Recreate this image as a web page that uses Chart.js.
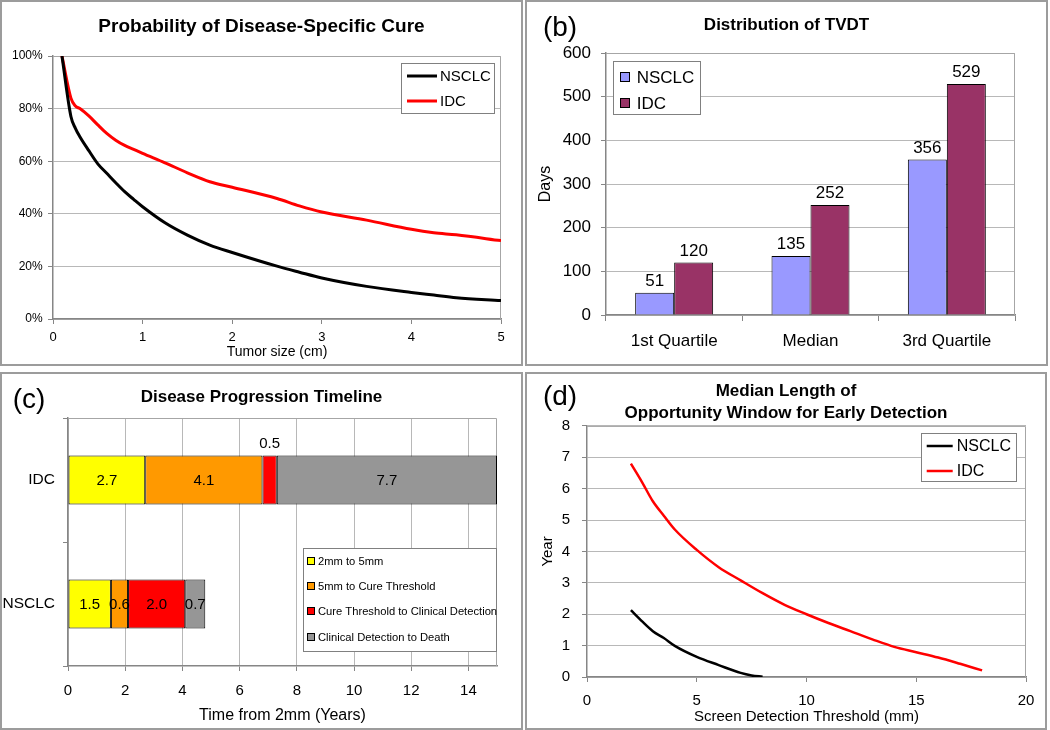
<!DOCTYPE html>
<html>
<head>
<meta charset="utf-8">
<title>Tumor growth panels</title>
<script src="https://cdn.jsdelivr.net/npm/chart.js@4.4.0/dist/chart.umd.min.js"></script>
<style>
  body { margin: 0; background: #fff; width: 1050px; height: 730px; position: relative; overflow: hidden; }
  .panel { position: absolute; box-sizing: border-box; border: 2px solid #9c9c9c; background: #fff; }
  .panel canvas { display: block; }
</style>
</head>
<body>
<div class="panel" style="left:0;top:0;width:523px;height:366px"><canvas id="cureChart" width="519" height="362"></canvas></div>
<div class="panel" style="left:525px;top:0;width:523px;height:366px"><canvas id="tvdtChart" width="519" height="362"></canvas></div>
<div class="panel" style="left:0;top:372px;width:523px;height:358px"><canvas id="timelineChart" width="519" height="354"></canvas></div>
<div class="panel" style="left:525px;top:372px;width:522px;height:358px"><canvas id="windowChart" width="518" height="354"></canvas></div>

<script>
// (a) probability of disease-specific cure, % by tumor size (cm)
const sizeCm = [0.1, 0.2, 0.25, 0.3, 0.4, 0.5, 0.6, 0.7, 0.8, 0.9, 1, 1.25, 1.5, 1.75, 2, 2.5, 2.75, 3, 3.5, 4, 4.25, 4.5, 5];
const cureNsclc = [100, 77, 72.5, 69.3, 64, 59, 55.4, 51.8, 48.4, 45.5, 42.7, 36.6, 31.9, 28.1, 25.3, 20.1, 17.8, 15.6, 12.4, 10.1, 9.1, 8.1, 7];
const cureIdc = [100, 84, 81, 80, 77.2, 73.8, 70.6, 68, 66, 64.5, 63, 59.4, 55.6, 52.2, 50.1, 45.8, 43, 40.7, 37.6, 34.1, 32.8, 32, 29.8];

// (b) TVDT distribution, days
const quartiles = ['1st Quartile', 'Median', '3rd Quartile'];
const tvdtNsclc = [51, 135, 356];
const tvdtIdc = [120, 252, 529];

// (c) disease progression timeline, years
const cancers = ['IDC', 'NSCLC'];
const stageNames = ['2mm to 5mm', '5mm to Cure Threshold', 'Cure Threshold to Clinical Detection', 'Clinical Detection to Death'];
const stage2to5mm = [2.7, 1.5];
const stage5mmToCure = [4.1, 0.6];
const stageCureToDetect = [0.5, 2.0];
const stageDetectToDeath = [7.7, 0.7];

// (d) opportunity window (years) by screen detection threshold (mm)
const thresholdIdcMm = [2, 2.5, 3, 3.5, 4, 5, 6, 7, 8, 9, 10, 11, 12, 13, 14, 15, 16, 17, 18];
const windowIdc = [6.8, 6.22, 5.6, 5.14, 4.7, 4.05, 3.5, 3.08, 2.67, 2.3, 2.0, 1.72, 1.46, 1.2, 0.96, 0.79, 0.62, 0.42, 0.21];
const thresholdNsclcMm = [2, 2.5, 3, 3.5, 4, 5, 6, 7, 7.5, 8];
const windowNsclc = [2.13, 1.78, 1.46, 1.24, 0.99, 0.64, 0.38, 0.13, 0.05, 0.01];

Chart.defaults.font.family = '"Liberation Sans", Arial, sans-serif';
Chart.defaults.color = '#000';

const AXIS = '#868686';
const GRID = '#b8b8b8';

function points(xs, ys) {
  return xs.map((x, i) => ({ x: x, y: ys[i] }));
}

// plot frame, panel letter, boxed legend and value labels
const decor = {
  id: 'decor',
  afterLayout(chart) {
    // center the title over the whole panel, not just the padded area
    if (chart.titleBlock) {
      chart.titleBlock.left = 0;
      chart.titleBlock.right = chart.width;
    }
  },
  beforeDatasetsDraw(chart) {
    const ctx = chart.ctx;
    const a = chart.chartArea;
    ctx.save();
    ctx.strokeStyle = '#a6a6a6';
    ctx.lineWidth = 1;
    ctx.beginPath();
    ctx.moveTo(a.left, a.top + 0.5);
    ctx.lineTo(a.right - 0.5, a.top + 0.5);
    ctx.lineTo(a.right - 0.5, a.bottom);
    ctx.stroke();
    ctx.restore();
  },
  afterDatasetsDraw(chart, args, opts) {
    if (!opts.values) return;
    const ctx = chart.ctx;
    const v = opts.values;
    ctx.save();
    ctx.fillStyle = '#000';
    ctx.font = v.size + 'px "Liberation Sans", Arial, sans-serif';
    ctx.textAlign = 'center';
    chart.data.datasets.forEach((ds, i) => {
      chart.getDatasetMeta(i).data.forEach((el, j) => {
        const val = ds.data[j];
        if (v.mode === 'top') {
          ctx.textBaseline = 'bottom';
          ctx.fillText(String(val), el.x, el.y - 3);
        } else {
          const w = Math.abs(el.x - el.base);
          const cx = (el.x + el.base) / 2;
          ctx.textBaseline = 'middle';
          if (w < 16) {
            ctx.fillText(val.toFixed(1), cx, el.y - el.height / 2 - 12);
          } else {
            ctx.fillText(val.toFixed(1), cx, el.y + 1);
          }
        }
      });
    });
    ctx.restore();
  },
  afterDraw(chart, args, opts) {
    const ctx = chart.ctx;
    ctx.save();
    if (opts.tag) {
      ctx.fillStyle = '#000';
      ctx.font = '28px "Liberation Sans", Arial, sans-serif';
      ctx.textAlign = 'center';
      ctx.textBaseline = 'middle';
      ctx.fillText(opts.tag.text, opts.tag.x, opts.tag.y);
    }
    const L = opts.legend;
    if (L) {
      ctx.fillStyle = '#fff';
      ctx.fillRect(L.x, L.y, L.w, L.h);
      ctx.strokeStyle = '#808080';
      ctx.lineWidth = 1;
      ctx.strokeRect(L.x + 0.5, L.y + 0.5, L.w - 1, L.h - 1);
      ctx.font = L.size + 'px "Liberation Sans", Arial, sans-serif';
      ctx.textAlign = 'left';
      ctx.textBaseline = 'middle';
      chart.data.datasets.forEach((ds, i) => {
        const y = Math.round(L.y + L.first + i * L.step);
        if (L.kind === 'line') {
          ctx.strokeStyle = ds.borderColor;
          ctx.lineWidth = ds.borderWidth;
          ctx.beginPath();
          ctx.moveTo(L.x + L.symX, y);
          ctx.lineTo(L.x + L.symX + L.symW, y);
          ctx.stroke();
        } else {
          const s = L.symW;
          ctx.fillStyle = ds.backgroundColor;
          ctx.fillRect(L.x + L.symX, y - s / 2, s, s);
          ctx.strokeStyle = '#000';
          ctx.lineWidth = 1;
          ctx.strokeRect(L.x + L.symX + 0.5, y - s / 2 + 0.5, s - 1, s - 1);
        }
        ctx.fillStyle = '#000';
        ctx.fillText(ds.label, L.x + L.textX, y + 1);
      });
    }
    ctx.restore();
  }
};

// (a)
new Chart(document.getElementById('cureChart'), {
  type: 'line',
  data: {
    datasets: [
      { label: 'NSCLC', data: points(sizeCm, cureNsclc), borderColor: '#000000', borderWidth: 3, pointRadius: 0, cubicInterpolationMode: 'monotone' },
      { label: 'IDC', data: points(sizeCm, cureIdc), borderColor: '#ff0000', borderWidth: 3, pointRadius: 0, cubicInterpolationMode: 'monotone' }
    ]
  },
  options: {
    responsive: false,
    animation: false,
    layout: { padding: { left: 0, right: 20, top: 0, bottom: 0 } },
    plugins: {
      legend: { display: false },
      tooltip: { enabled: false },
      title: { display: true, text: 'Probability of Disease-Specific Cure', font: { size: 19, weight: 'bold' }, padding: { top: 13.5, bottom: 17.7 } },
      decor: { legend: { kind: 'line', x: 399, y: 61, w: 94, h: 51, first: 13, step: 25, symX: 6, symW: 30, textX: 39, size: 15 } }
    },
    scales: {
      x: {
        type: 'linear', min: 0, max: 5,
        ticks: { stepSize: 1, font: { size: 13 }, padding: 5.8 },
        grid: { drawOnChartArea: false, tickLength: 5, tickColor: AXIS },
        border: { color: AXIS, width: 1.5 },
        title: { display: true, text: 'Tumor size (cm)', font: { size: 14 }, padding: { top: 0, bottom: 3.6 } },
        afterFit: s => { s.height = 45; }
      },
      y: {
        min: 0, max: 100,
        ticks: { stepSize: 20, font: { size: 12 }, padding: 5.3, callback: v => v + '%' },
        grid: { color: GRID, tickLength: 5, tickColor: AXIS },
        border: { color: AXIS, width: 1.5 },
        afterFit: s => { s.width = 51; }
      }
    }
  },
  plugins: [decor]
});

// (b)
new Chart(document.getElementById('tvdtChart'), {
  type: 'bar',
  data: {
    labels: quartiles,
    datasets: [
      { label: 'NSCLC', data: tvdtNsclc, backgroundColor: '#9999ff', borderColor: '#000', borderWidth: 1 },
      { label: 'IDC', data: tvdtIdc, backgroundColor: '#993366', borderColor: '#000', borderWidth: 1 }
    ]
  },
  options: {
    responsive: false,
    animation: false,
    datasets: { bar: { categoryPercentage: 0.572, barPercentage: 1 } },
    layout: { padding: { left: 0, right: 31, top: 0, bottom: 0 } },
    plugins: {
      legend: { display: false },
      tooltip: { enabled: false },
      title: { display: true, text: 'Distribution of TVDT', font: { size: 17, weight: 'bold' }, padding: { top: 12.8, bottom: 17.8 } },
      decor: {
        tag: { text: '(b)', x: 33, y: 26 },
        values: { mode: 'top', size: 17 },
        legend: { kind: 'box', x: 86, y: 59, w: 88, h: 54, first: 15.7, step: 26.3, symX: 7, symW: 10, textX: 23.7, size: 17 }
      }
    },
    scales: {
      x: {
        ticks: { font: { size: 17 }, padding: 10.5 },
        grid: { drawOnChartArea: false, tickLength: 6, tickColor: AXIS },
        border: { color: AXIS, width: 1.5 },
        afterFit: s => { s.height = 49; }
      },
      y: {
        min: 0, max: 600,
        ticks: { stepSize: 100, font: { size: 17 }, padding: 10 },
        grid: { color: GRID, tickLength: 5, tickColor: AXIS },
        border: { color: AXIS, width: 1.5 },
        title: { display: true, text: 'Days', font: { size: 16 }, padding: { top: 9.4, bottom: 0 } },
        afterFit: s => { s.width = 79; }
      }
    }
  },
  plugins: [decor]
});

// (c)
const STAGE_COLORS = ['#ffff00', '#ff9900', '#ff0000', '#969696'];
const stageValues = [stage2to5mm, stage5mmToCure, stageCureToDetect, stageDetectToDeath];

new Chart(document.getElementById('timelineChart'), {
  type: 'bar',
  data: {
    labels: cancers,
    datasets: stageNames.map((name, i) => ({
      label: name,
      data: stageValues[i],
      backgroundColor: STAGE_COLORS[i],
      borderColor: '#000',
      borderWidth: 1,
      borderSkipped: false
    }))
  },
  options: {
    indexAxis: 'y',
    responsive: false,
    animation: false,
    datasets: { bar: { categoryPercentage: 0.395, barPercentage: 1 } },
    layout: { padding: { left: 0, right: 24, top: 0, bottom: 0 } },
    plugins: {
      legend: { display: false },
      tooltip: { enabled: false },
      title: { display: true, text: 'Disease Progression Timeline', font: { size: 17, weight: 'bold' }, padding: { top: 13.5, bottom: 10.1 } },
      decor: {
        tag: { text: '(c)', x: 27, y: 26 },
        values: { mode: 'center', size: 15 },
        legend: { kind: 'box', x: 301, y: 174, w: 194, h: 104, first: 12.7, step: 25.3, symX: 4, symW: 8, textX: 15, size: 11.2 }
      }
    },
    scales: {
      x: {
        type: 'linear', stacked: true, min: 0, max: 15,
        ticks: { stepSize: 2, includeBounds: false, font: { size: 15 }, padding: 10.8 },
        grid: { color: GRID, tickLength: 5, tickColor: AXIS },
        border: { color: AXIS, width: 1.5 },
        title: { display: true, text: 'Time from 2mm (Years)', font: { size: 16 }, padding: { top: 0, bottom: 2.6 } },
        afterFit: s => { s.height = 62; }
      },
      y: {
        stacked: true,
        ticks: { font: { size: 15.5 }, padding: 8 },
        grid: { drawOnChartArea: false, tickLength: 5, tickColor: AXIS },
        border: { color: AXIS, width: 1.5 },
        afterFit: s => { s.width = 66; }
      }
    }
  },
  plugins: [decor]
});

// (d)
new Chart(document.getElementById('windowChart'), {
  type: 'line',
  data: {
    datasets: [
      { label: 'NSCLC', data: points(thresholdNsclcMm, windowNsclc), borderColor: '#000000', borderWidth: 2.5, pointRadius: 0, cubicInterpolationMode: 'monotone' },
      { label: 'IDC', data: points(thresholdIdcMm, windowIdc), borderColor: '#ff0000', borderWidth: 2.5, pointRadius: 0, cubicInterpolationMode: 'monotone' }
    ]
  },
  options: {
    responsive: false,
    animation: false,
    layout: { padding: { left: 0, right: 19, top: 0, bottom: 0 } },
    plugins: {
      legend: { display: false },
      tooltip: { enabled: false },
      title: {
        display: true,
        text: ['Median Length of', 'Opportunity Window for Early Detection'],
        font: { size: 17, weight: 'bold', lineHeight: 1.31 },
        padding: { top: 5.85, bottom: 1.55 }
      },
      decor: {
        tag: { text: '(d)', x: 33, y: 23 },
        legend: { kind: 'line', x: 394, y: 59, w: 96, h: 49, first: 13, step: 25, symX: 5.7, symW: 26, textX: 35.7, size: 16 }
      }
    },
    scales: {
      x: {
        type: 'linear', min: 0, max: 20,
        ticks: { stepSize: 5, font: { size: 15 }, padding: 9.8 },
        grid: { drawOnChartArea: false, tickLength: 5, tickColor: AXIS },
        border: { color: AXIS, width: 1.5 },
        title: { display: true, text: 'Screen Detection Threshold (mm)', font: { size: 15 }, padding: { top: 0, bottom: 2 } },
        afterFit: s => { s.height = 51; }
      },
      y: {
        min: 0, max: 8,
        ticks: { stepSize: 1, font: { size: 15 }, padding: 12 },
        grid: { color: GRID, tickLength: 5, tickColor: AXIS },
        border: { color: AXIS, width: 1.5 },
        title: { display: true, text: 'Year', font: { size: 15 }, padding: { top: 11.7, bottom: 0 } },
        afterFit: s => { s.width = 60; }
      }
    }
  },
  plugins: [decor]
});
</script>
</body>
</html>
